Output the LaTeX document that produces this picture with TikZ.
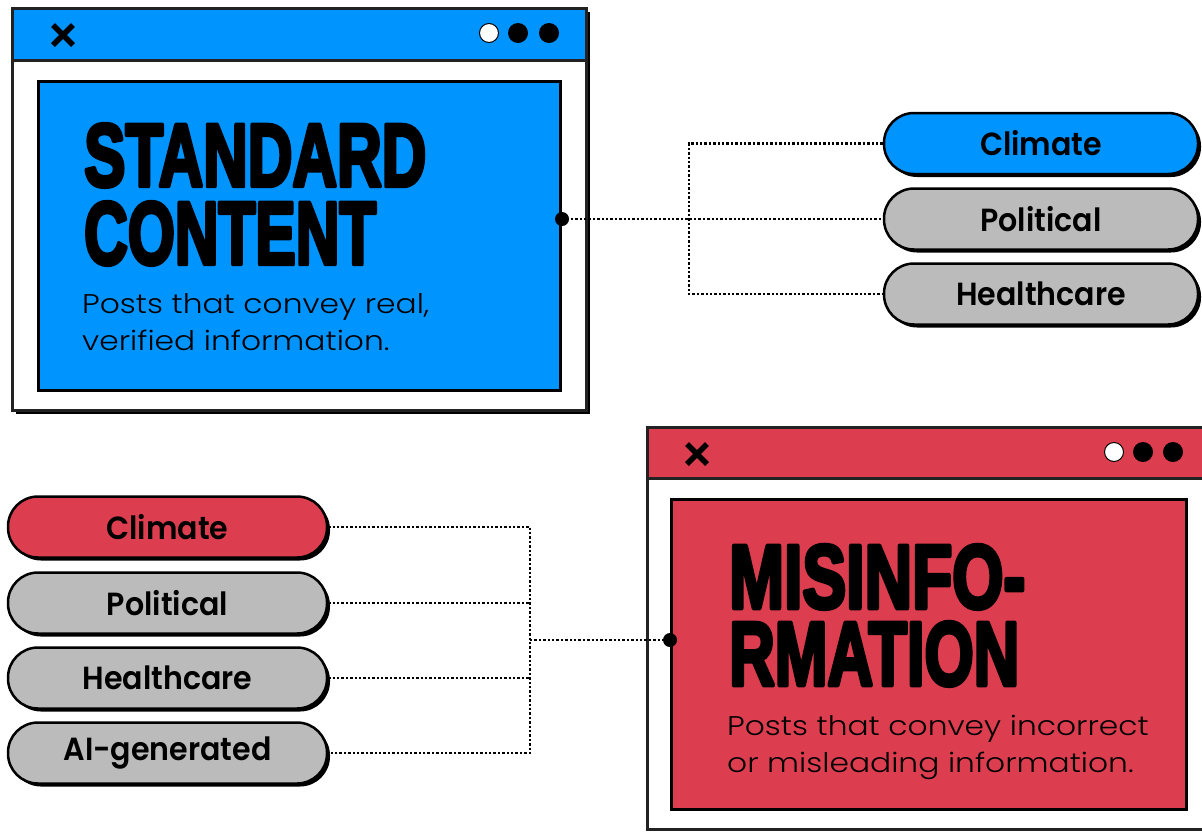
\documentclass[tikz,border=0pt]{standalone}
\usepackage{fontspec}
\usepackage{graphicx}
\usetikzlibrary{shadows,calc}
\newfontfamily\titlefont[FakeBold=5]{Liberation Sans Bold}
\newfontfamily\bodyfont[FakeStretch=1.16]{Poppins Light}
\newfontfamily\pillfont[FakeStretch=0.94]{Poppins SemiBold}
\definecolor{webblue}{RGB}{0,148,255}
\definecolor{alertred}{RGB}{221,62,79}
\definecolor{pillgrey}{RGB}{187,187,187}
\definecolor{framegrey}{RGB}{34,34,34}
\newcommand{\headline}[3]{\resizebox{#1pt}{#2pt}{\titlefont #3}}
\begin{document}
\begin{tikzpicture}[x=1pt,y=-1pt,
  frame/.style={draw=framegrey,line width=3pt},
  panel/.style={draw=black,line width=3pt,inner sep=0pt,anchor=north west},
  pill/.style={rectangle,rounded corners=30pt,minimum width=314pt,minimum height=61pt,
    draw=black,line width=2.5pt,inner sep=0pt,
    font=\pillfont\fontsize{32}{32}\selectfont,
    drop shadow={shadow xshift=3pt,shadow yshift=-3pt,fill=black,opacity=1}},
  bluepill/.style={pill,fill=webblue},
  redpill/.style={pill,fill=alertred,minimum width=319pt},
  greypill/.style={pill,fill=pillgrey},
  greypillL/.style={greypill,minimum width=319pt},
  title/.style={anchor=base west,inner sep=0pt,line join=round,miter limit=1},
  body/.style={anchor=base west,inner sep=0pt,font=\bodyfont\fontsize{27}{27}\selectfont},
  conn/.style={dotted,line width=2.4pt,black},
  closex/.style={line width=5.5pt,black},
  endpoint/.style={fill=black}]
\useasboundingbox (0,0) rectangle (1202,831);

% ---------- standard content window ----------
\fill[black] (16,12) rectangle (590,414);
\filldraw[frame,fill=white] (12,8) rectangle (586,410);
\filldraw[frame,fill=webblue] (12,8) rectangle (586,60);
\draw[closex] (53,25) -- (73,45) (53,45) -- (73,25);
\filldraw[fill=white,draw=black,line width=1pt] (489,33) circle (9.5);
\fill (518,33) circle (10);
\fill (549,33) circle (10);
\node[panel,fill=webblue,minimum width=522pt,minimum height=309pt] (std) at (37,80) {};
\node[title] (stdt1) at (84,186) {\headline{342}{62}{STANDARD}};
\node[title] (stdt2) at (84,264) {\headline{292}{62}{CONTENT}};
\node[body] (stdd1) at (82,313) {Posts that convey real,};
\node[body] (stdd2) at (82,350) {verified information.};

% ---------- topic pills, right ----------
\node[bluepill] (rc) at (1041,143.5) {Climate};
\node[greypill] (rp) at (1041,219) {Political};
\node[greypill] (rh) at (1041,294) {Healthcare};

\coordinate (tj) at (689,219);
\coordinate (sdot) at (std.east |- rp.west);
\draw[conn] (sdot) -- (rp.west);
\draw[conn] (rc.west) -- (rc.west -| tj) -- (rh.west -| tj) -- (rh.west);
\fill[endpoint] (sdot) circle (7);

% ---------- misinformation window ----------
\filldraw[frame,fill=white] (647,427) rectangle (1212,829);
\filldraw[frame,fill=alertred] (647,427) rectangle (1212,478);
\draw[closex] (687,444) -- (707,464) (687,464) -- (707,444);
\filldraw[fill=white,draw=black,line width=1pt] (1114,452) circle (9.5);
\fill (1143,452) circle (10);
\fill (1173,452) circle (10);
\node[panel,fill=alertred,minimum width=515pt,minimum height=310pt] (mis) at (670,498) {};
\node[title] (mist1) at (729,608) {\headline{296}{63}{MISINFO-}};
\node[title] (mist2) at (729,685) {\headline{290}{63}{RMATION}};
\node[body] (misd1) at (727,735) {Posts that convey incorrect};
\node[body] (misd2) at (727,772) {or misleading information.};

% ---------- topic pills, left ----------
\node[redpill] (lc) at (167.5,527) {Climate};
\node[greypillL] (lp) at (167.5,603) {Political};
\node[greypillL] (lh) at (167.5,678) {Healthcare};
\node[greypillL] (la) at (167.5,753) {AI-generated};

\coordinate (bj) at (530,640);
\coordinate (mdot) at (mis.west |- bj);
\draw[conn] (lc.east) -- (lc.east -| bj) -- (la.east -| bj) -- (la.east);
\draw[conn] (lp.east) -- (lp.east -| bj);
\draw[conn] (lh.east) -- (lh.east -| bj);
\draw[conn] (bj) -- (mdot);
\fill[endpoint] (mdot) circle (7);
\end{tikzpicture}
\end{document}
